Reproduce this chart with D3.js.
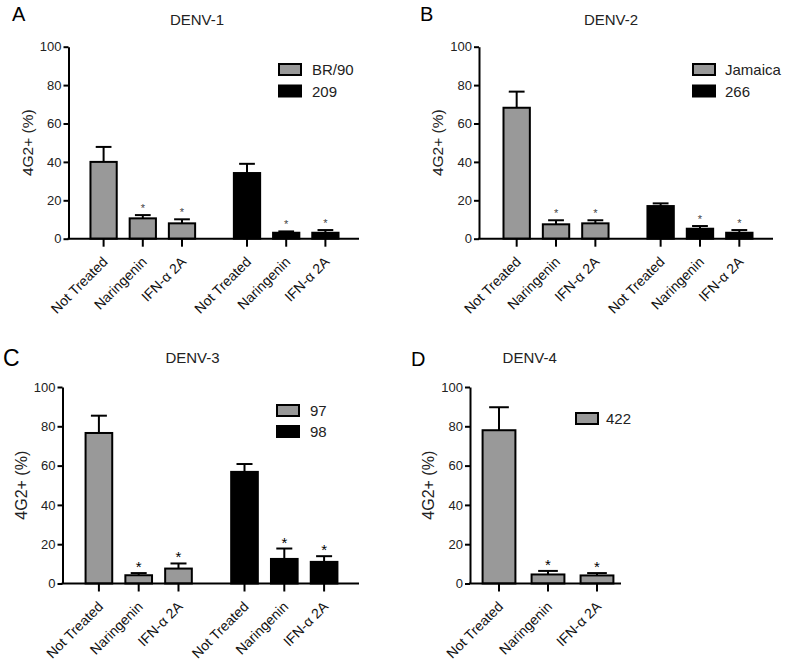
<!DOCTYPE html>
<html>
<head>
<meta charset="utf-8">
<script src="https://cdn.jsdelivr.net/npm/d3@7"></script>
<style>
  html, body { margin: 0; padding: 0; background: #fff; }
  svg { display: block; font-family: Arial, "Liberation Sans", sans-serif; }
</style>
</head>
<body>
<svg id="chart" width="787" height="663"></svg>
<script>
// ---------------- DATA ----------------
const treatments = ["Not Treated", "Naringenin", "IFN-\u03b1 2A"];
const yTicks = [0, 20, 40, 60, 80, 100];
const significant = [false, true, true];

const panelLetters = ["A", "B", "C", "D"];
const panelTitles = ["DENV-1", "DENV-2", "DENV-3", "DENV-4"];

const strainsA = ["BR/90", "209"];
const meansA_BR90 = [40.0, 10.6, 8.0];
const errA_BR90 = [7.8, 1.7, 2.1];
const meansA_209 = [34.2, 3.1, 3.1];
const errA_209 = [4.8, 0.7, 1.4];

const strainsB = ["Jamaica", "266"];
const meansB_Jamaica = [68.2, 7.5, 8.0];
const errB_Jamaica = [8.4, 2.1, 1.6];
const meansB_266 = [17.0, 5.2, 3.1];
const errB_266 = [1.4, 1.4, 1.4];

const strainsC = ["97", "98"];
const meansC_97 = [76.6, 4.2, 7.6];
const errC_97 = [8.8, 1.1, 2.6];
const meansC_98 = [56.8, 12.5, 11.0];
const errC_98 = [4.0, 5.3, 2.9];

const strainsD = ["422"];
const meansD_422 = [78.0, 4.6, 4.1];
const errD_422 = [11.7, 1.8, 1.2];

const strainColors = ["#999999", "#000000"];

// ---------------- LAYOUT ----------------
const layouts = [
  { letter: [12, 21, 20], title: [197, 25], axis: [68.5, 359], bands: [84, 345], y: [238.7, 46.7],
    legend: { box: 279, text: 312, y: 64, gap: 21.5 }, star: { size: 11, color: "#444", off: 3 }, font: 15.5 },
  { letter: [420, 21, 20], title: [611, 25], axis: [479, 773], bands: [497, 759], y: [238.7, 46.7],
    legend: { box: 693, text: 725, y: 64, gap: 21.5 }, star: { size: 11, color: "#444", off: 3 }, font: 15.5 },
  { letter: [3, 366, 23], title: [192.5, 363], axis: [62.5, 359], bands: [79, 344], y: [583.5, 387],
    legend: { box: 277, text: 310, y: 405, gap: 21 }, star: { size: 15, color: "#000", off: 1 }, font: 16 },
  { letter: [411, 366, 20], title: [529.7, 363], axis: [470, 621], bands: [474.5, 621.5], y: [583.5, 387],
    legend: { box: 576, text: 606, y: 413, gap: 21 }, star: { size: 15, color: "#000", off: 1 }, font: 16 }
];

const panelData = [
  { strains: strainsA, means: [meansA_BR90, meansA_209], errs: [errA_BR90, errA_209] },
  { strains: strainsB, means: [meansB_Jamaica, meansB_266], errs: [errB_Jamaica, errB_266] },
  { strains: strainsC, means: [meansC_97, meansC_98], errs: [errC_97, errC_98] },
  { strains: strainsD, means: [meansD_422], errs: [errD_422] }
];

const svg = d3.select("#chart");

panelData.forEach((pd, pi) => {
  const L = layouts[pi];
  const g = svg.append("g");

  const y = d3.scaleLinear().domain([0, 100]).range(L.y);

  const xGroup = d3.scaleBand()
    .domain(pd.strains)
    .range(L.bands)
    .paddingInner(pd.strains.length > 1 ? 0.18 : 0)
    .paddingOuter(0);

  const xInner = d3.scaleBand()
    .domain(treatments)
    .range([0, xGroup.bandwidth()])
    .paddingInner(0.33)
    .paddingOuter(0.165);

  const bars = [];
  pd.strains.forEach((s, si) => {
    treatments.forEach((t, ti) => {
      bars.push({
        strain: s, si, treatment: t, ti,
        mean: pd.means[si][ti], err: pd.errs[si][ti], sig: significant[ti],
        x: xGroup(s) + xInner(t), cx: xGroup(s) + xInner(t) + xInner.bandwidth() / 2
      });
    });
  });
  const bw = xInner.bandwidth();

  // panel letter
  g.append("text")
    .attr("x", L.letter[0]).attr("y", L.letter[1])
    .attr("font-size", L.letter[2]).attr("fill", "#000")
    .text(panelLetters[pi]);

  // title
  g.append("text")
    .attr("x", L.title[0]).attr("y", L.title[1])
    .attr("text-anchor", "middle").attr("font-size", 15).attr("fill", "#222")
    .text(panelTitles[pi]);

  // y axis label
  g.append("text")
    .attr("transform", `translate(${L.axis[0] - 36},${(L.y[0] + L.y[1]) / 2}) rotate(-90)`)
    .attr("text-anchor", "middle").attr("font-size", L.font).attr("fill", "#222")
    .text("4G2+ (%)");

  // error bars (upward)
  const eg = g.append("g").attr("stroke", "#000").attr("stroke-width", 2);
  eg.selectAll("line.v").data(bars).join("line")
    .attr("x1", d => d.cx).attr("x2", d => d.cx)
    .attr("y1", d => y(d.mean)).attr("y2", d => y(d.mean + d.err));
  eg.selectAll("line.c").data(bars).join("line")
    .attr("x1", d => d.cx - bw * 0.3).attr("x2", d => d.cx + bw * 0.3)
    .attr("y1", d => y(d.mean + d.err)).attr("y2", d => y(d.mean + d.err));

  // bars
  g.append("g").selectAll("rect").data(bars).join("rect")
    .attr("x", d => d.x).attr("width", bw)
    .attr("y", d => y(d.mean)).attr("height", d => y(0) - y(d.mean))
    .attr("fill", d => strainColors[d.si])
    .attr("stroke", "#000").attr("stroke-width", 2);

  // asterisks
  g.append("g").selectAll("text").data(bars.filter(d => d.sig)).join("text")
    .attr("x", d => d.cx).attr("y", d => y(d.mean + d.err) - L.star.off)
    .attr("text-anchor", "middle").attr("font-size", L.star.size)
    .attr("fill", L.star.color)
    .text("*");

  // y axis
  const yAxis = d3.axisLeft(y).tickValues(yTicks).tickSize(5).tickSizeOuter(0).tickPadding(2);
  const ya = g.append("g").attr("transform", `translate(${L.axis[0]},0)`).call(yAxis);
  ya.select(".domain").attr("stroke", "#000").attr("stroke-width", 2);
  ya.selectAll(".tick line").attr("stroke", "#000").attr("stroke-width", 2);
  ya.selectAll(".tick text").attr("font-size", 13).attr("fill", "#222")
    .attr("font-family", "Arial, 'Liberation Sans', sans-serif");

  // x axis baseline
  g.append("line")
    .attr("x1", L.axis[0] - 1).attr("x2", L.axis[1])
    .attr("y1", y(0)).attr("y2", y(0))
    .attr("stroke", "#000").attr("stroke-width", 2);

  // x ticks
  g.append("g").selectAll("line").data(bars).join("line")
    .attr("x1", d => d.cx).attr("x2", d => d.cx)
    .attr("y1", y(0)).attr("y2", y(0) + 8)
    .attr("stroke", "#000").attr("stroke-width", 2);

  // x labels
  g.append("g").selectAll("text").data(bars).join("text")
    .attr("transform", d => `translate(${d.cx + 5},${y(0) + 24}) rotate(-45)`)
    .attr("text-anchor", "end").attr("font-size", 14).attr("fill", "#111")
    .text(d => d.treatment);

  // legend
  const lg = g.append("g");
  pd.strains.forEach((s, si) => {
    const ly = L.legend.y + si * L.legend.gap;
    lg.append("rect")
      .attr("x", L.legend.box).attr("y", ly)
      .attr("width", 22).attr("height", 11)
      .attr("fill", strainColors[si]).attr("stroke", "#000").attr("stroke-width", 2);
    lg.append("text")
      .attr("x", L.legend.text).attr("y", ly + 11)
      .attr("font-size", 15).attr("fill", "#222")
      .text(s);
  });
});
</script>
</body>
</html>
